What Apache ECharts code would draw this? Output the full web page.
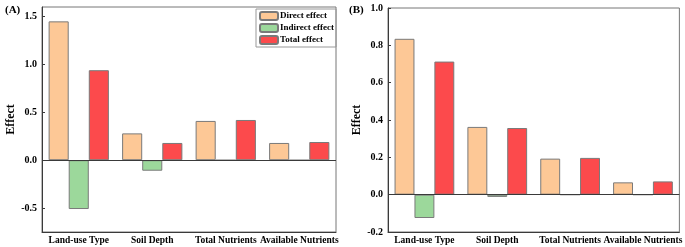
<!DOCTYPE html>
<html>
<head>
<meta charset="utf-8">
<script src="https://cdn.jsdelivr.net/npm/echarts@6/dist/echarts.min.js"></script>
<style>
  html, body { margin: 0; padding: 0; background: #fff; }
  #chart { width: 685px; height: 247px; }
</style>
</head>
<body>
<div id="chart"></div>
<script>
const categories = ["Land-use Type", "Soil Depth", "Total Nutrients", "Available Nutrients"];
const seriesNames = ["Direct effect", "Indirect effect", "Total effect"];

// panel (A)
const directA = [1.45, 0.28, 0.41, 0.18];
const indirectA = [-0.51, -0.11, 0, 0];
const totalA = [0.94, 0.18, 0.42, 0.19];
const ticksA = [-0.5, 0, 0.5, 1.0, 1.5];

// panel (B)
const directB = [0.835, 0.363, 0.193, 0.066];
const indirectB = [-0.125, -0.012, 0, 0];
const totalB = [0.713, 0.357, 0.197, 0.071];
const ticksB = [-0.2, 0, 0.2, 0.4, 0.6, 0.8, 1.0];

const colors = ["#FDC896", "#9CD89B", "#FC4A4C"];
const serif = "'Liberation Serif', 'DejaVu Serif', serif";
const axisColor = "#3a3a3a";

const chart = echarts.init(document.getElementById("chart"));

function xAxisFor(idx) {
  return {
    type: "category",
    gridIndex: idx,
    data: categories,
    axisLine: { onZero: false, lineStyle: { color: axisColor, width: 1 } },
    axisTick: { inside: true, length: 3, alignWithLabel: true, lineStyle: { color: axisColor } },
    axisLabel: { interval: 0, margin: 4, color: "#000", fontFamily: serif, fontWeight: "bold", fontSize: 9.5 }
  };
}

function yAxisFor(idx, min, max, ticks, nameGap) {
  return {
    type: "value",
    gridIndex: idx,
    min: min,
    max: max,
    name: "Effect",
    nameLocation: "middle",
    nameRotate: 90,
    nameGap: nameGap,
    nameTextStyle: { color: "#000", fontFamily: serif, fontWeight: "bold", fontSize: 12 },
    axisLine: { show: true, lineStyle: { color: axisColor, width: 1 } },
    axisTick: { show: true, inside: true, length: 3, customValues: ticks, lineStyle: { color: axisColor } },
    axisLabel: {
      customValues: ticks,
      margin: 5,
      color: "#000",
      fontFamily: serif,
      fontWeight: "bold",
      fontSize: 10,
      formatter: (v) => v.toFixed(1)
    },
    splitLine: { show: false }
  };
}

function barsFor(idx, direct, indirect, total) {
  const data = [direct, indirect, total];
  return data.map((vals, i) => {
    const s = {
      name: seriesNames[i],
      type: "bar",
      xAxisIndex: idx,
      yAxisIndex: idx,
      data: vals,
      barGap: "0%",
      barCategoryGap: "18%",
      itemStyle: { color: colors[i], borderColor: "#7a7a7a", borderWidth: 1 }
    };
    if (i === 0) {
      s.markLine = {
        silent: true,
        symbol: "none",
        label: { show: false },
        lineStyle: { color: axisColor, width: 1, type: "solid" },
        data: [{ yAxis: 0 }]
      };
    }
    return s;
  });
}

const option = {
  animation: false,
  title: [
    { text: "(A)", left: 0, top: 0, textStyle: { fontFamily: serif, fontWeight: "bold", fontSize: 11, color: "#000" } },
    { text: "(B)", left: 344, top: 0, textStyle: { fontFamily: serif, fontWeight: "bold", fontSize: 11, color: "#000" } }
  ],
  legend: {
    data: seriesNames,
    orient: "vertical",
    left: 256,
    top: 9,
    itemWidth: 18,
    itemHeight: 8,
    itemGap: 2,
    padding: [2, 2, 2, 3],
    borderColor: "#999",
    borderWidth: 1,
    textStyle: { fontFamily: serif, fontWeight: "bold", fontSize: 9, lineHeight: 9, color: "#000", padding: [0, 0, 0, -3] }
  },
  grid: [
    { left: 42, right: 349, top: 7, bottom: 15, show: true, borderColor: "#777", borderWidth: 1 },
    { left: 388, right: 3, top: 8, bottom: 15, show: true, borderColor: "#777", borderWidth: 1 }
  ],
  xAxis: [xAxisFor(0), xAxisFor(1)],
  yAxis: [yAxisFor(0, -0.75, 1.6, ticksA, 22), yAxisFor(1, -0.2, 1.0, ticksB, 24)],
  series: [].concat(barsFor(0, directA, indirectA, totalA), barsFor(1, directB, indirectB, totalB))
};

chart.setOption(option);
</script>
</body>
</html>
